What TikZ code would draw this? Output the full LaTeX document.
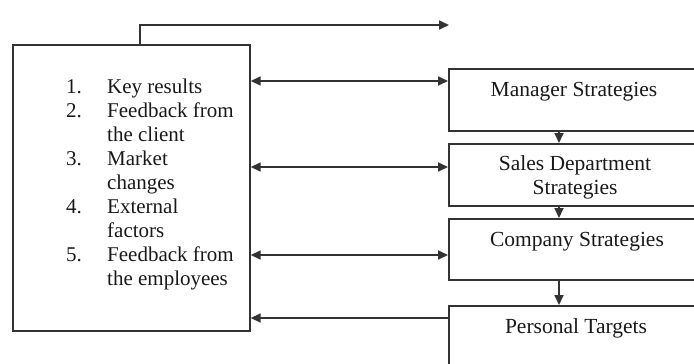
\documentclass[tikz,border=0pt]{standalone}
\usepackage{fontspec}
\setmainfont{Liberation Serif}
\usetikzlibrary{arrows.meta}
\begin{document}
\begin{tikzpicture}[x=1pt,y=-1pt,
  line/.style={draw=black!80, line width=1.7pt},
  box/.style={line, rectangle, inner sep=0pt, anchor=north west},
  lbl/.style={inner sep=0pt, anchor=base, font=\fontsize{21.5}{24}\selectfont, text=black!90, align=center},
  arr/.style={line, arrows={-Triangle[length=10pt,width=9pt]}},
  darr/.style={line, arrows={Triangle[length=10pt,width=9pt]-Triangle[length=10pt,width=9pt]}}]
\useasboundingbox (0,0) rectangle (694,364);
\clip (0,0) rectangle (694,364);
% boxes
\node[box, minimum width=237pt, minimum height=286pt] (fb) at (12,44) {};
\node[box, minimum width=254pt, minimum height=62pt] (mgr) at (448,68) {};
\node[box, minimum width=254pt, minimum height=62pt] (sales) at (448,143) {};
\node[box, minimum width=254pt, minimum height=61pt] (comp) at (448,218) {};
\node[box, minimum width=254pt, minimum height=85pt] (pers) at (448,305) {};
% list
\node[inner sep=0pt, anchor=north west, font=\fontsize{21}{24}\selectfont, text=black!90] (list) at (66,76.2) {%
  \begin{tabular}{@{}p{41pt}@{}l@{}}
  1. & Key results\\
  2. & Feedback from\\
     & the client\\
  3. & Market\\
     & changes\\
  4. & External\\
     & factors\\
  5. & Feedback from\\
     & the employees
  \end{tabular}};
% labels
\node[lbl] (mgrL) at (574,96) {Manager Strategies};
\node[lbl] (salesL) at (575,170) {Sales Department};
\node[lbl] (salesL2) at (575,194) {Strategies};
\node[lbl] (compL) at (577,246) {Company Strategies};
\node[lbl] (persL) at (576,333) {Personal Targets};
% top connector
\coordinate (topend) at (449,25);
\draw[arr] (fb.north -| 140,0) |- (topend);
% horizontal connectors
\draw[darr] (fb.east |- 0,81) -- (mgr.west |- 0,81);
\draw[darr] (fb.east |- 0,167) -- (sales.west |- 0,167);
\draw[darr] (fb.east |- 0,255) -- (comp.west |- 0,255);
\draw[arr] (pers.west |- 0,318) -- (fb.east |- 0,318);
% vertical connectors
\draw[arr] (mgr.south -| 559,0) -- (sales.north -| 559,0);
\draw[arr] (sales.south -| 559,0) -- (comp.north -| 559,0);
\draw[arr] (comp.south -| 559,0) -- (pers.north -| 559,0);
\end{tikzpicture}
\end{document}
